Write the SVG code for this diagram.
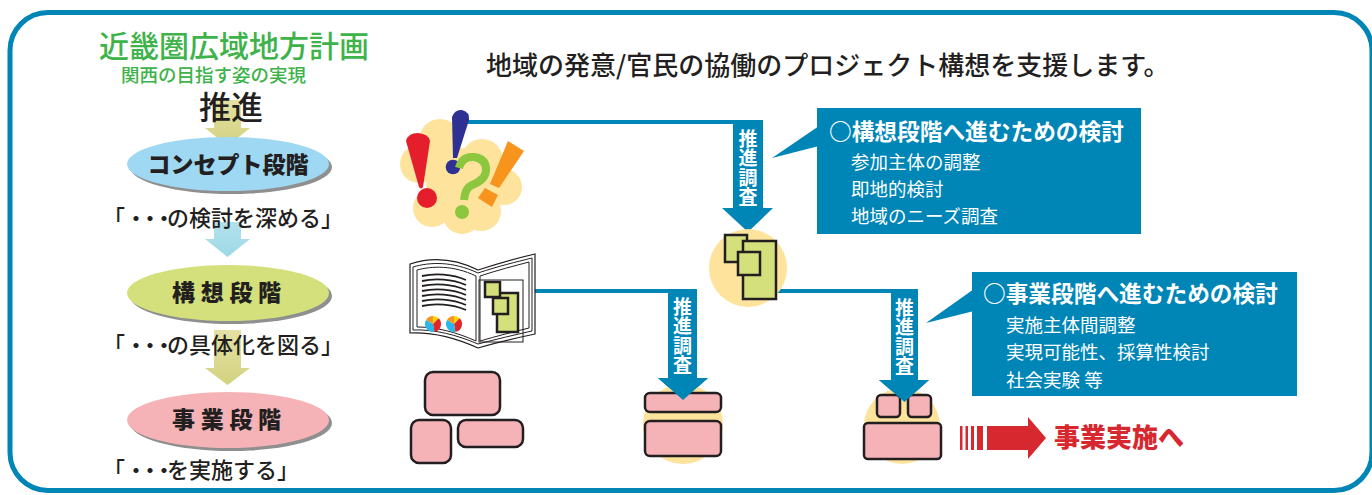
<svg xmlns="http://www.w3.org/2000/svg" width="1372" height="495" viewBox="0 0 1372 495">
  <style>
    .jp { font-family: "Noto Sans CJK JP", "Noto Sans", sans-serif; }
    .stage { font-family: "Noto Sans CJK JP", sans-serif; font-weight: 900; font-size: 23px; fill: #231f20; }
    .note { font-family: "Noto Sans CJK JP", sans-serif; font-weight: 500; font-size: 22px; fill: #231f20; }
    .dots { letter-spacing: -8px; }
    .banner-text { font-family: "Noto Sans CJK JP", sans-serif; font-weight: 700; font-size: 19px; fill: #ffffff; writing-mode: vertical-rl; letter-spacing: 0.5px; }
    .callout-title { font-family: "Noto Sans CJK JP", sans-serif; font-weight: 700; font-size: 22.7px; fill: #ffffff; }
    .callout-item { font-family: "Noto Sans CJK JP", sans-serif; font-weight: 400; font-size: 18.5px; fill: #ffffff; }
    .blue { fill: #0085b7; }
    .link { stroke: #0085b7; stroke-width: 4; fill: none; }
    .pink { fill: #f5b3b8; stroke: #231f20; stroke-width: 2.5; }
    .green { fill: #d4e07c; stroke: #231f20; stroke-width: 2.5; }
    .halo { fill: #fde39c; }
    .shadow { fill: #8f8f8f; }
  </style>
  <defs>
    <linearGradient id="gYellow" x1="0" y1="0" x2="0" y2="1">
      <stop offset="0" stop-color="#e4e1a4"/>
      <stop offset="1" stop-color="#d3d27f"/>
    </linearGradient>
    <linearGradient id="gCyan" x1="0" y1="0" x2="0" y2="1">
      <stop offset="0" stop-color="#b2e1ec"/>
      <stop offset="1" stop-color="#9ed9e6"/>
    </linearGradient>
  </defs>

  <!-- outer frame -->
  <rect x="10" y="12.5" width="1362" height="478" rx="38" fill="#ffffff" stroke="#0085b7" stroke-width="5"/>

  <!-- left column: stage flow -->
  <g id="plan-title">
    <text class="jp" x="99" y="56.5" font-size="30" font-weight="500" fill="#3db34a">近畿圏広域地方計画</text>
    <text class="jp" x="121" y="82" font-size="18.5" font-weight="500" fill="#3db34a">関西の目指す姿の実現</text>
  </g>

  <g id="flow-arrows">
    <polygon points="214,100 241,100 241,128 250,128 227.5,146 205,128 214,128" fill="url(#gYellow)"/>
    <polygon points="214,222 241,222 241,239 250,239 227.5,257 205,239 214,239" fill="url(#gCyan)"/>
    <polygon points="214,330 241,330 241,368 250,368 227.5,385 205,368 214,368" fill="url(#gYellow)"/>
  </g>

  <g id="promote">
    <text class="jp" x="199" y="119" font-size="32" font-weight="500" fill="#231f20">推進</text>
  </g>

  <g id="stage-concept">
    <ellipse class="shadow" cx="231" cy="167" rx="101" ry="27"/>
    <ellipse cx="228" cy="164" rx="101" ry="27" fill="#9ed8f2"/>
    <text class="stage" x="228" y="173" text-anchor="middle">コンセプト段階</text>
  </g>
  <text class="note" x="103" y="226">「<tspan class="dots">・・・</tspan>の検討を深める」</text>

  <g id="stage-vision">
    <ellipse class="shadow" cx="231" cy="296" rx="101" ry="28"/>
    <ellipse cx="228" cy="293" rx="101" ry="28" fill="#d4e07c"/>
    <text class="stage" x="172" y="301" letter-spacing="5.7">構想段階</text>
  </g>
  <text class="note" x="103" y="353">「<tspan class="dots">・・・</tspan>の具体化を図る」</text>

  <g id="stage-project">
    <ellipse class="shadow" cx="231" cy="423" rx="101" ry="28"/>
    <ellipse cx="228" cy="420" rx="101" ry="28" fill="#f5b3b8"/>
    <text class="stage" x="172" y="428" letter-spacing="5.7">事業段階</text>
  </g>
  <text class="note" x="103" y="478">「<tspan class="dots">・・・</tspan>を実施する」</text>

  <!-- heading -->
  <text id="heading" class="jp" x="486" y="75" font-size="26" font-weight="500" fill="#231f20">地域の発意/官民の協働のプロジェクト構想を支援します。</text>

  <!-- connectors -->
  <g id="connectors">
    <line class="link" x1="463" y1="122" x2="735" y2="122"/>
    <line class="link" x1="502" y1="291" x2="670" y2="291"/>
    <line class="link" x1="762" y1="291" x2="893" y2="291"/>

    <polygon class="blue" points="733,120 763,120 763,208 773,208 748,232 722,208 733,208"/>
    <text class="banner-text" x="748" y="129">推進調査</text>

    <polygon class="blue" points="668,289 697,289 697,378 708,378 683,400 658,378 668,378"/>
    <text class="banner-text" x="682.5" y="297">推進調査</text>

    <polygon class="blue" points="891,289 918,289 918,380 929,380 904.5,402 879,380 891,380"/>
    <text class="banner-text" x="904.5" y="298">推進調査</text>

    <!-- onward arrow -->
    <g fill="#d7282f">
      <rect x="960" y="426" width="2.5" height="24"/>
      <rect x="965.5" y="426" width="2.5" height="24"/>
      <rect x="971" y="426" width="3" height="24"/>
      <rect x="977" y="426" width="6" height="24"/>
      <polygon points="987,426 1028,426 1028,417 1046,438 1028,459 1028,450 987,450"/>
    </g>
  </g>

  <!-- idea cloud -->
  <g id="node-idea">
    <g class="halo">
      <circle cx="440" cy="140" r="21"/>
      <circle cx="482" cy="160" r="21"/>
      <circle cx="504" cy="187" r="18"/>
      <circle cx="481" cy="211" r="20"/>
      <circle cx="462" cy="215" r="19"/>
      <circle cx="432" cy="208" r="19"/>
      <circle cx="419" cy="164" r="19"/>
      <circle cx="460" cy="182" r="34"/>
    </g>
    <path d="M406,141 Q408,133 418,133 Q429,134 430,141 L423,187 Q421,190 419,187 Z" fill="#e41e2a"/>
    <circle cx="427" cy="198" r="10" fill="#e41e2a"/>
    <path d="M452,117 Q455,109 462,110 Q470,112 469,120 L457,158 L453,158 Z" fill="#2e3192"/>
    <circle cx="453" cy="167" r="7.3" fill="#2e3192"/>
    <path d="M459,168 Q462,156 474,157 Q487,159 486,171 Q485,180 472,185 Q465,188 464,200" fill="none" stroke="#8dc63f" stroke-width="8"/>
    <circle cx="462" cy="212" r="7" fill="#8dc63f"/>
    <polygon points="508,141 524,151 499,188 490,184" fill="#f7941d"/>
    <polygon points="478,198 485,188 498,195 492,207" fill="#f7941d"/>
  </g>

  <!-- study document -->
  <g id="node-document">
    <path d="M410,264 C428,258 452,257 478,270 C500,263 518,258 535,254 L535,334 C516,338 498,342 478,348 C456,338 432,332 410,333 Z" fill="#ffffff" stroke="#231f20" stroke-width="1.2"/>
    <path d="M413,267 C430,262 452,261 478,273 C499,266 516,262 532,258 L532,331 C514,335 497,339 478,344 C457,335 434,329 413,330 Z" fill="none" stroke="#231f20" stroke-width="1"/>
    <path d="M417,270 C432,266 453,265 476,276 L476,341 C456,332 436,327 417,327 Z" fill="none" stroke="#231f20" stroke-width="1"/>
    <path d="M480,276 C498,270 514,266 529,262 L529,328 C513,332 497,336 480,341 Z" fill="none" stroke="#231f20" stroke-width="1"/>
    <g fill="none" stroke="#231f20" stroke-width="1.8">
      <path d="M422,276 C435,273 452,274 466,280"/>
      <path d="M422,281 C435,278 452,279 466,285"/>
      <path d="M422,286 C435,283 452,284 466,290"/>
      <path d="M422,291 C435,288 452,289 466,295"/>
      <path d="M422,296 C435,293 452,294 466,300"/>
      <path d="M422,301 C435,298 452,299 466,305"/>
      <path d="M422,306 C435,303 452,304 466,310"/>
    </g>
    <rect x="479" y="280" width="44" height="62" fill="none" stroke="#231f20" stroke-width="1"/>
    <!-- pie charts -->
    <path d="M433,324 L426.07,320 A8,8 0 0 1 433,316 Z" fill="#f7941d"/>
    <path d="M433,324 L433,316 A8,8 0 0 1 438.66,318.34 Z" fill="#ffd400"/>
    <path d="M433,324 L438.66,318.34 A8,8 0 0 1 434.39,331.88 Z" fill="#e0262b"/>
    <path d="M433,324 L434.39,331.88 A8,8 0 0 1 426.07,320 Z" fill="#29b6e8"/>
    <path d="M454,324 L447.07,320 A8,8 0 0 1 454,316 Z" fill="#f7941d"/>
    <path d="M454,324 L454,316 A8,8 0 0 1 459.66,318.34 Z" fill="#ffd400"/>
    <path d="M454,324 L459.66,318.34 A8,8 0 0 1 455.39,331.88 Z" fill="#e0262b"/>
    <path d="M454,324 L455.39,331.88 A8,8 0 0 1 447.07,320 Z" fill="#29b6e8"/>
    <rect class="green" x="497" y="293" width="21" height="39" stroke-width="2"/>
    <rect class="green" x="485" y="282" width="15" height="15" stroke-width="2"/>
    <rect class="green" x="493" y="298" width="15" height="16" stroke-width="2"/>
  </g>

  <!-- vision-stage node -->
  <g id="node-vision">
    <circle class="halo" cx="748" cy="268" r="39"/>
    <rect class="green" x="725" y="235" width="22" height="27"/>
    <rect class="green" x="743" y="241" width="33" height="58"/>
    <rect class="green" x="738" y="252" width="22" height="23"/>
  </g>

  <!-- scattered blocks -->
  <g id="node-blocks">
    <rect class="pink" x="425" y="372" width="75" height="43" rx="8"/>
    <rect class="pink" x="411" y="420" width="40" height="43" rx="8"/>
    <rect class="pink" x="458" y="420" width="65" height="27" rx="8"/>
  </g>

  <!-- arranged blocks -->
  <g id="node-arranged">
    <circle class="halo" cx="683" cy="424" r="40"/>
    <rect class="pink" x="645" y="393" width="76" height="19" rx="5"/>
    <rect class="pink" x="645" y="421" width="76" height="35" rx="5"/>
    <polygon class="blue" points="668,378 697,378 708,378 683,400 658,378"/>
  </g>

  <!-- project node -->
  <g id="node-project">
    <circle class="halo" cx="902" cy="426" r="38"/>
    <rect class="pink" x="877" y="395" width="23" height="22" rx="4"/>
    <rect class="pink" x="908" y="395" width="23" height="22" rx="4"/>
    <rect class="pink" x="864" y="423" width="77" height="36" rx="4"/>
    <polygon class="blue" points="879,380 929,380 904.5,402"/>
  </g>

  <!-- callouts -->
  <g id="callout-vision">
    <polygon class="blue" points="819,126 772,158 819,146"/>
    <rect class="blue" x="817" y="108" width="324" height="126"/>
    <text class="callout-title" x="829" y="140">○構想段階へ進むための検討</text>
    <text class="callout-item" x="851" y="169">参加主体の調整</text>
    <text class="callout-item" x="851" y="196">即地的検討</text>
    <text class="callout-item" x="851" y="223">地域のニーズ調査</text>
  </g>

  <g id="callout-project">
    <polygon class="blue" points="974,289 926,323 974,311"/>
    <rect class="blue" x="972" y="272" width="325" height="124"/>
    <text class="callout-title" x="983" y="302">○事業段階へ進むための検討</text>
    <text class="callout-item" x="1006" y="332">実施主体間調整</text>
    <text class="callout-item" x="1006" y="359">実現可能性、採算性検討</text>
    <text class="callout-item" x="1006" y="387">社会実験 等</text>
  </g>

  <text id="onward-label" class="jp" x="1054" y="447" font-size="26" font-weight="900" fill="#d7282f">事業実施へ</text>
</svg>
